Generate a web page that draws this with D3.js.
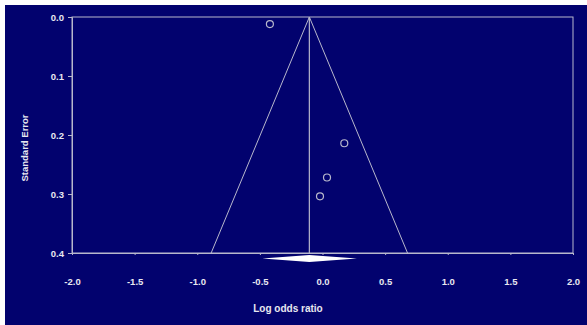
<!DOCTYPE html>
<html><head><meta charset="utf-8">
<script src="https://cdn.jsdelivr.net/npm/d3@7"></script>
<style>body{margin:0;background:#fff}svg{display:block}text{font-family:"Liberation Sans",Arial,sans-serif;font-weight:bold;fill:#e8e8f0}</style>
</head><body>
<svg id="c" width="587" height="325"></svg>
<script>
const logOR = [-0.42, 0.174, 0.036, -0.02];
const stdErr = [0.012, 0.214, 0.272, 0.304];
const pooled = [-0.105];
const pooledCI = [-0.48, 0.275];
const xTicks = [-2.0, -1.5, -1.0, -0.5, 0.0, 0.5, 1.0, 1.5, 2.0];
const yTicks = [0.0, 0.1, 0.2, 0.3, 0.4];

const svg = d3.select("#c");
const W = 587, H = 325;
const bg = "#02026e", lineC = "#b8b8cc";
svg.append("rect").attr("x", 5).attr("y", 5).attr("width", W - 5).attr("height", H - 5).attr("fill", bg);

const L = 72, R = 573, T = 17, B = 253;
const x = d3.scaleLinear().domain([-2, 2]).range([L, R]);
const y = d3.scaleLinear().domain([0, 0.4]).range([T, B]);
const fmt = d => d.toFixed(1);

// frame
svg.append("rect").attr("x", L).attr("y", T).attr("width", R - L).attr("height", B - T)
  .attr("fill", "none").attr("stroke", lineC).attr("stroke-width", 1);

// axes
const xa = svg.append("g").attr("transform", `translate(0,${B})`)
  .call(d3.axisBottom(x).tickValues(xTicks).tickSize(2).tickFormat(fmt));
xa.select(".domain").attr("stroke", lineC);
xa.selectAll(".tick line").attr("stroke", lineC);
xa.selectAll("text").attr("dy", 0).attr("y", 32).style("font-size", "9.5px").attr("fill", "#e8e8f0");

const ya = svg.append("g").attr("transform", `translate(${L},0)`)
  .call(d3.axisLeft(y).tickValues(yTicks).tickSize(4).tickFormat(fmt));
ya.select(".domain").attr("stroke", lineC);
ya.selectAll(".tick line").attr("stroke", lineC);
ya.selectAll("text").attr("x", -8).style("font-size", "9.5px").attr("fill", "#e8e8f0");

// funnel
const c = pooled[0];
const seMax = 0.4;
svg.append("path")
  .attr("d", d3.line()([[x(c - 1.96 * seMax), y(seMax)], [x(c), y(0)], [x(c + 1.96 * seMax), y(seMax)]]))
  .attr("fill", "none").attr("stroke", lineC).attr("stroke-width", 1);
svg.append("line").attr("x1", x(c)).attr("x2", x(c)).attr("y1", y(0)).attr("y2", y(seMax))
  .attr("stroke", lineC).attr("stroke-width", 1.2);

// points
svg.selectAll("circle.pt").data(logOR).enter().append("circle")
  .attr("cx", d => x(d)).attr("cy", (d, i) => y(stdErr[i])).attr("r", 3.5)
  .attr("fill", "none").attr("stroke", lineC).attr("stroke-width", 1.2);

// diamond
const dy = B + 5.5;
svg.append("path")
  .attr("d", d3.line()([[x(pooledCI[0]), dy], [x(c), dy - 3.5], [x(pooledCI[1]), dy], [x(c), dy + 3.5]]) + "Z")
  .attr("fill", "#ffffff");

// titles
svg.append("text").attr("x", 288).attr("y", 312).attr("text-anchor", "middle").style("font-size", "10px").text("Log odds ratio");
svg.append("text").attr("transform", "translate(28,148) rotate(-90)").attr("text-anchor", "middle").style("font-size", "9.5px").text("Standard Error");
</script>
</body></html>
